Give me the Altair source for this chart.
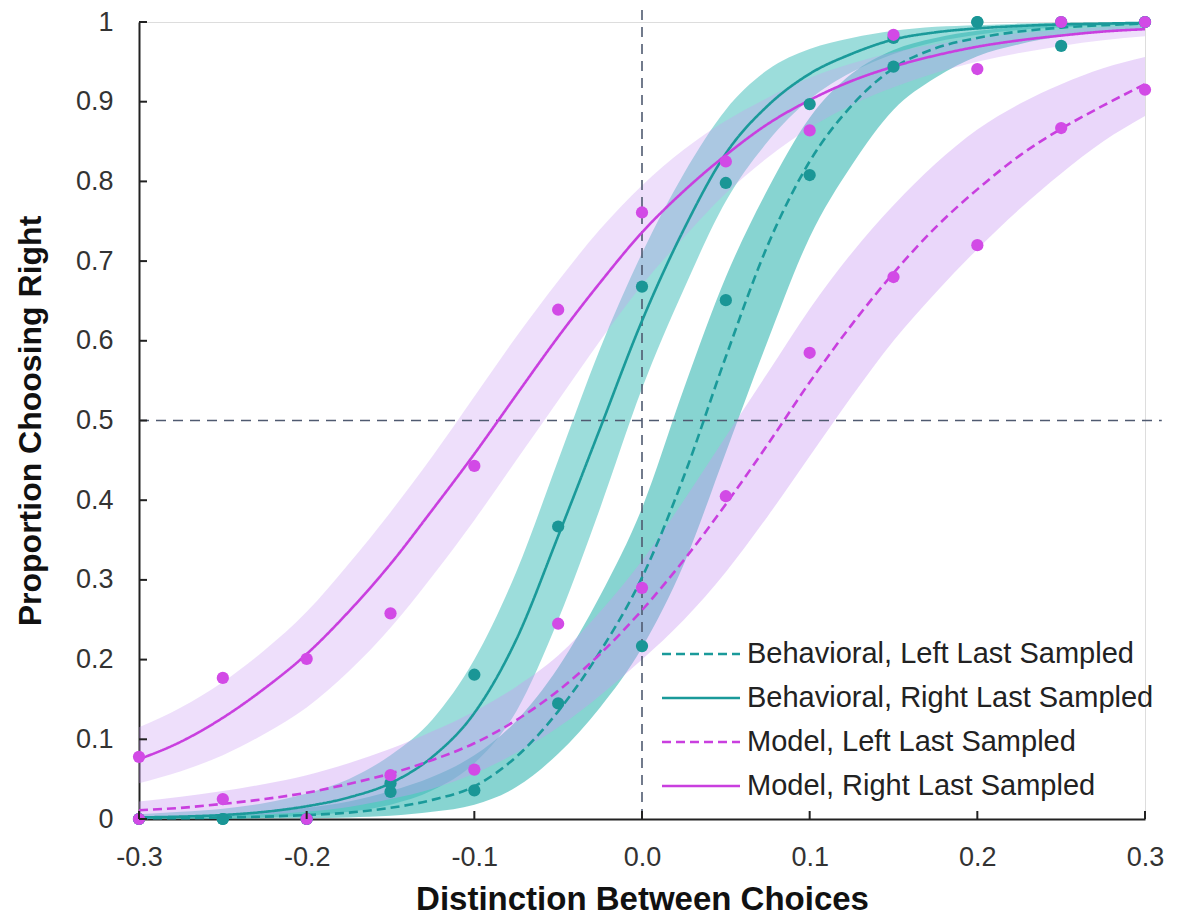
import altair as alt
import pandas as pd

# ---------------- data ----------------
X_CURVE = [-0.3, -0.275, -0.25, -0.225, -0.2, -0.175, -0.15, -0.125, -0.1, -0.075, -0.05, -0.025,
           0.0, 0.025, 0.05, 0.075, 0.1, 0.125, 0.15, 0.175, 0.2, 0.225, 0.25, 0.275, 0.3]

BL_FIT = [0.001, 0.001, 0.002, 0.003, 0.005, 0.008, 0.014, 0.024, 0.041, 0.078, 0.135, 0.21,
          0.303, 0.43, 0.58, 0.72, 0.825, 0.895, 0.942, 0.967, 0.98, 0.988, 0.993, 0.996, 0.998]
BL_LO = [0.0, 0.0, 0.0, 0.001, 0.001, 0.002, 0.004, 0.009, 0.018, 0.04, 0.082, 0.14,
         0.215, 0.32, 0.46, 0.6, 0.73, 0.82, 0.89, 0.93, 0.957, 0.972, 0.982, 0.988, 0.992]
BL_HI = [0.003, 0.004, 0.006, 0.009, 0.014, 0.022, 0.035, 0.053, 0.08, 0.123, 0.19, 0.28,
         0.39, 0.54, 0.68, 0.79, 0.88, 0.935, 0.965, 0.98, 0.989, 0.994, 0.997, 0.998, 0.999]

BR_FIT = [0.002, 0.003, 0.005, 0.009, 0.016, 0.027, 0.045, 0.078, 0.133, 0.225, 0.355, 0.49,
          0.625, 0.74, 0.835, 0.895, 0.935, 0.96, 0.978, 0.987, 0.992, 0.995, 0.997, 0.998, 0.999]
BR_LO = [0.0, 0.001, 0.001, 0.002, 0.004, 0.009, 0.018, 0.036, 0.07, 0.135, 0.25, 0.39,
         0.54, 0.665, 0.775, 0.85, 0.903, 0.937, 0.96, 0.975, 0.984, 0.99, 0.993, 0.996, 0.997]
BR_HI = [0.006, 0.009, 0.013, 0.02, 0.032, 0.05, 0.08, 0.125, 0.2, 0.31, 0.45, 0.59,
         0.71, 0.81, 0.89, 0.94, 0.966, 0.98, 0.989, 0.994, 0.996, 0.998, 0.999, 0.999, 1.0]

ML_FIT = [0.011, 0.014, 0.019, 0.025, 0.033, 0.044, 0.057, 0.074, 0.095, 0.124, 0.161, 0.207,
          0.262, 0.325, 0.395, 0.47, 0.548, 0.62, 0.685, 0.742, 0.79, 0.832, 0.866, 0.895, 0.922]
ML_LO = [0.002, 0.003, 0.004, 0.006, 0.009, 0.015, 0.025, 0.038, 0.057, 0.083, 0.115, 0.155,
         0.2, 0.25, 0.31, 0.38, 0.455, 0.53, 0.6, 0.66, 0.715, 0.765, 0.81, 0.85, 0.882]
ML_HI = [0.022, 0.028, 0.035, 0.044, 0.055, 0.07, 0.088, 0.11, 0.135, 0.166, 0.205, 0.26,
         0.324, 0.40, 0.48, 0.56, 0.64, 0.71, 0.77, 0.822, 0.865, 0.897, 0.922, 0.942, 0.956]

MR_FIT = [0.075, 0.097, 0.127, 0.164, 0.207, 0.26, 0.32, 0.388, 0.458, 0.532, 0.605, 0.673,
          0.736, 0.788, 0.833, 0.872, 0.902, 0.926, 0.944, 0.958, 0.969, 0.977, 0.983, 0.988, 0.991]
MR_LO = [0.045, 0.06, 0.08, 0.107, 0.14, 0.185, 0.24, 0.305, 0.375, 0.45, 0.525, 0.6,
         0.67, 0.73, 0.785, 0.83, 0.867, 0.896, 0.918, 0.936, 0.95, 0.961, 0.97, 0.977, 0.982]
MR_HI = [0.115, 0.14, 0.172, 0.212, 0.26, 0.32, 0.385, 0.455, 0.53, 0.605, 0.675, 0.74,
         0.795, 0.84, 0.876, 0.905, 0.93, 0.948, 0.962, 0.972, 0.98, 0.986, 0.99, 0.993, 0.995]

X_DOTS = [-0.3, -0.25, -0.2, -0.15, -0.1, -0.05, 0.0, 0.05, 0.1, 0.15, 0.2, 0.25, 0.3]
BL_DOTS = [0.0, 0.0, 0.0, 0.034, 0.036, 0.145, 0.217, 0.651, 0.808, 0.944, 1.0, 0.97, 1.0]
BR_DOTS = [0.0, 0.0, 0.0, 0.045, 0.181, 0.367, 0.668, 0.798, 0.897, 0.98, 1.0, 1.0, 1.0]
ML_DOTS = [0.0, 0.025, 0.0, 0.055, 0.062, 0.245, 0.29, 0.405, 0.585, 0.68, 0.72, 0.867, 0.915]
MR_DOTS = [0.078, 0.177, 0.201, 0.258, 0.443, 0.639, 0.761, 0.825, 0.864, 0.984, 0.941, 1.0, 1.0]

SERIES = ["Behavioral, Left Last Sampled", "Behavioral, Right Last Sampled",
          "Model, Left Last Sampled", "Model, Right Last Sampled"]
LINE_COLORS = ["#1a9a9a", "#1a9a9a", "#c93fdf", "#c93fdf"]
DOT_COLORS = ["#1a9696", "#1a9696", "#d24ae6", "#d24ae6"]
BAND_COLORS = ["#24b0ab", "#2fb8b3", "#c99af3", "#c99af3"]
BAND_OPACITY = [0.55, 0.32, 0.42, 0.42]
DASHES = [[9, 5], [1, 0], [9, 5], [1, 0]]

X_TICKS = [-0.3, -0.2, -0.1, 0.0, 0.1, 0.2, 0.3]
Y_TICKS = [0, 0.1, 0.2, 0.3, 0.4, 0.5, 0.6, 0.7, 0.8, 0.9, 1.0]

# ---------------- tables ----------------
fits = [(BL_FIT, BL_LO, BL_HI), (BR_FIT, BR_LO, BR_HI), (ML_FIT, ML_LO, ML_HI), (MR_FIT, MR_LO, MR_HI)]
rows = []
for s, (f, lo, hi) in zip(SERIES, fits):
    for x, a, b, c in zip(X_CURVE, f, lo, hi):
        rows.append({"series": s, "x": x, "fit": a, "lo": b, "hi": c})
curve_df = pd.DataFrame(rows)

drows = []
for i, (s, d) in enumerate(zip(SERIES, [BL_DOTS, BR_DOTS, ML_DOTS, MR_DOTS])):
    for x, y in zip(X_DOTS, d):
        drows.append({"series": s, "x": x, "y": y, "order": i})
dots_df = pd.DataFrame(drows)

W, H = 1006, 797
FONT = "Liberation Sans, Arial, sans-serif"

xscale = alt.Scale(domain=[-0.3, 0.3], nice=False, zero=False)
yscale = alt.Scale(domain=[0, 1], nice=False, zero=False)

x_axis = alt.Axis(values=X_TICKS, title="Distinction Between Choices",
                  labelExpr="replace(format(datum.value, '.1f'), '\u2212', '-')",
                  tickSize=0, labelPadding=25, titlePadding=13, grid=False,
                  domainColor="#222", domainWidth=2, labelFontSize=27, labelColor="#333",
                  labelFont=FONT, titleFont=FONT, titleFontSize=33, titleFontWeight="bold",
                  titleColor="#111", labelFlush=False)
y_axis = alt.Axis(values=Y_TICKS, title="Proportion Choosing Right",
                  labelExpr="datum.value == 0 ? '0' : datum.value == 1 ? '1' : format(datum.value, '.1f')",
                  tickSize=0, labelPadding=26, titlePadding=28, grid=False,
                  domainColor="#222", domainWidth=2, labelFontSize=27, labelColor="#333",
                  labelFont=FONT, titleFont=FONT, titleFontSize=32, titleFontWeight="bold",
                  titleColor="#111", labelFlush=False)

color_scale = alt.Scale(domain=SERIES, range=LINE_COLORS)
dot_scale = alt.Scale(domain=SERIES, range=DOT_COLORS)
fill_scale = alt.Scale(domain=SERIES, range=BAND_COLORS)
op_scale = alt.Scale(domain=SERIES, range=BAND_OPACITY)
dash_scale = alt.Scale(domain=SERIES, range=DASHES)

base = alt.Chart(curve_df)

bands = base.mark_area(interpolate="monotone").encode(
    x=alt.X("x:Q", scale=xscale, axis=x_axis),
    y=alt.Y("lo:Q", scale=yscale, axis=y_axis),
    y2="hi:Q",
    fill=alt.Fill("series:N", scale=fill_scale, legend=None),
    fillOpacity=alt.FillOpacity("series:N", scale=op_scale, legend=None),
    detail="series:N",
)

ref_df = pd.DataFrame({"h": [0.5], "v": [0.0]})
hline = alt.Chart(ref_df).mark_rule(color="#4f5a70", strokeDash=[10, 7], strokeWidth=1.6).encode(
    y=alt.Y("h:Q", scale=yscale), x=alt.datum(-0.3), x2=alt.datum(0.31))
vline = alt.Chart(ref_df).mark_rule(color="#4f5a70", strokeDash=[10, 7], strokeWidth=1.6).encode(
    x=alt.X("v:Q", scale=xscale), y=alt.datum(0), y2=alt.datum(1.02))

legend = alt.Legend(title=None, orient="none", legendX=541, legendY=611,
                    symbolType="M-2,0H2", symbolSize=1521, symbolStrokeWidth=2.6,
                    symbolFillColor="transparent",
                    labelFontSize=29, labelFont=FONT, labelColor="#222", labelOffset=25,
                    rowPadding=8, labelLimit=600)

lines = base.mark_line(interpolate="monotone", strokeWidth=2.6).encode(
    x=alt.X("x:Q", scale=xscale),
    y=alt.Y("fit:Q", scale=yscale),
    color=alt.Color("series:N", scale=color_scale, legend=legend),
    strokeDash=alt.StrokeDash("series:N", scale=dash_scale, legend=legend),
)

points = alt.Chart(dots_df).mark_circle(size=150, opacity=1).encode(
    x=alt.X("x:Q", scale=xscale),
    y=alt.Y("y:Q", scale=yscale),
    color=alt.Color("series:N", scale=dot_scale, legend=None),
    order=alt.Order("order:Q"),
)

yt_df = pd.DataFrame({"v": Y_TICKS})
xt_df = pd.DataFrame({"v": X_TICKS})
yticks = alt.Chart(yt_df).mark_rule(color="#222", strokeWidth=2).encode(
    y=alt.Y("v:Q", scale=yscale), x=alt.value(0), x2=alt.value(8))
xticks = alt.Chart(xt_df).mark_rule(color="#222", strokeWidth=2).encode(
    x=alt.X("v:Q", scale=xscale), y=alt.value(H), y2=alt.value(H - 8))

chart = alt.layer(bands, hline, vline, lines, points, yticks, xticks).resolve_scale(
    color="independent", strokeDash="independent"
).properties(
    width=W, height=H,
    autosize=alt.AutoSizeParams(type="none"),
    padding={"left": 131, "top": 14, "right": 22, "bottom": 99},
).configure_view(stroke=None).configure(background="white")

chart.save("out.html", embed_options={"renderer": "svg", "actions": False})
